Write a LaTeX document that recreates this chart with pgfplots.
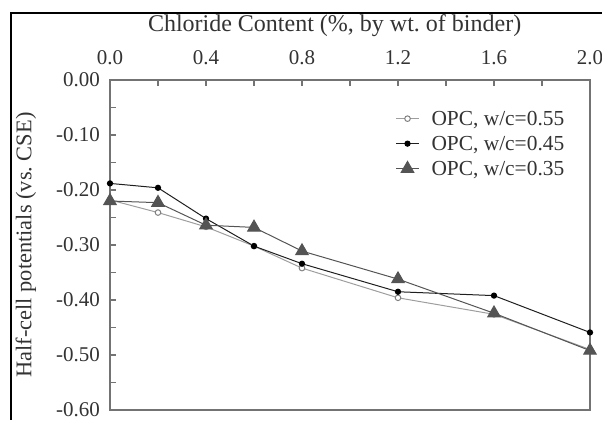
\documentclass[border=0pt]{standalone}
\usepackage{fontspec}
\setmainfont{Liberation Serif}
\usepackage{pgfplots}
\pgfplotsset{compat=1.18}
\definecolor{axisgray}{gray}{0.45}
\definecolor{lightln}{gray}{0.62}
\definecolor{darkln}{gray}{0.12}
\definecolor{triln}{gray}{0.33}
\begin{document}
\begin{tikzpicture}
\path[use as bounding box] (-55pt,-5pt) rectangle (246pt,205pt);
\fill[black] (-50pt,-5pt) rectangle (-49.2pt,199pt);
\fill[black] (-50pt,198.2pt) rectangle (246pt,199pt);
\begin{axis}[
  at={(0pt,0pt)}, anchor=south west,
  scale only axis, width=240pt, height=165pt,
  xmin=0, xmax=2.0, ymin=-0.6, ymax=0,
  axis line style={axisgray, line width=0.9pt},
  every tick/.style={axisgray, line width=0.8pt},
  tick align=inside,
  major tick length=3pt, minor tick length=3pt,
  xtick pos=top, xticklabel pos=upper,
  ytick pos=left,
  xtick={0,0.4,0.8,1.2,1.6,2.0},
  minor xtick={0.2,0.6,1.0,1.4,1.8},
  ytick={0,-0.1,-0.2,-0.3,-0.4,-0.5,-0.6},
  minor ytick={-0.05,-0.15,-0.25,-0.35,-0.45,-0.55},
  /pgf/number format/assume math mode=true,
  xticklabel style={/pgf/number format/fixed, /pgf/number format/fixed zerofill, /pgf/number format/precision=1,
     font=\fontsize{10.5pt}{12pt}\selectfont, text=black!80, yshift=4pt},
  yticklabel style={/pgf/number format/fixed, /pgf/number format/fixed zerofill, /pgf/number format/precision=2,
     font=\fontsize{10.5pt}{12pt}\selectfont, text=black!80, xshift=-1.5pt},
  xlabel={Chloride Content (\%, by wt.\ of binder)},
  xlabel style={at={(axis description cs:0.468,1.1636)}, anchor=center, font=\fontsize{12pt}{14pt}\selectfont, text=black!80},
  ylabel={Half-cell potentials (vs.\ CSE)},
  ylabel style={at={(axis description cs:-0.175,0.5)}, anchor=center, font=\fontsize{11.2pt}{13pt}\selectfont, text=black!80},
  legend cell align=left,
  legend style={draw=none, fill=none, at={(axis description cs:0.594,0.922)}, anchor=north west,
    font=\fontsize{10.7pt}{12pt}\selectfont, text=black!80,
    nodes={inner sep=1pt, text height=8.5pt, text depth=2pt}, row sep=0pt, column sep=5pt, inner sep=0pt},
  legend image code/.code={\draw[mark repeat=2,mark phase=2] plot coordinates {(0pt,0pt)(5.75pt,0pt)(11.5pt,0pt)};},
]
\addplot[lightln, line width=0.5pt, mark=*, mark size=1.4pt, mark options={draw=gray, fill=white, line width=0.5pt}]
  coordinates {(0,-0.218) (0.2,-0.241) (0.4,-0.267) (0.6,-0.302) (0.8,-0.342) (1.2,-0.396) (1.6,-0.426) (2.0,-0.490)};
\addlegendentry{OPC, w/c=0.55}
\addplot[darkln, line width=0.5pt, mark=*, mark size=1.3pt, mark options={draw=black, fill=black}]
  coordinates {(0,-0.188) (0.2,-0.196) (0.4,-0.252) (0.6,-0.302) (0.8,-0.334) (1.2,-0.385) (1.6,-0.392) (2.0,-0.459)};
\addlegendentry{OPC, w/c=0.45}
\addplot[triln, line width=0.5pt, mark=triangle*, mark size=3.6pt, mark options={draw=triln, fill=triln}]
  coordinates {(0,-0.220) (0.2,-0.223) (0.4,-0.264) (0.6,-0.268) (0.8,-0.311) (1.2,-0.362) (1.6,-0.424) (2.0,-0.492)};
\addlegendentry{OPC, w/c=0.35}
\end{axis}
\end{tikzpicture}
\end{document}
